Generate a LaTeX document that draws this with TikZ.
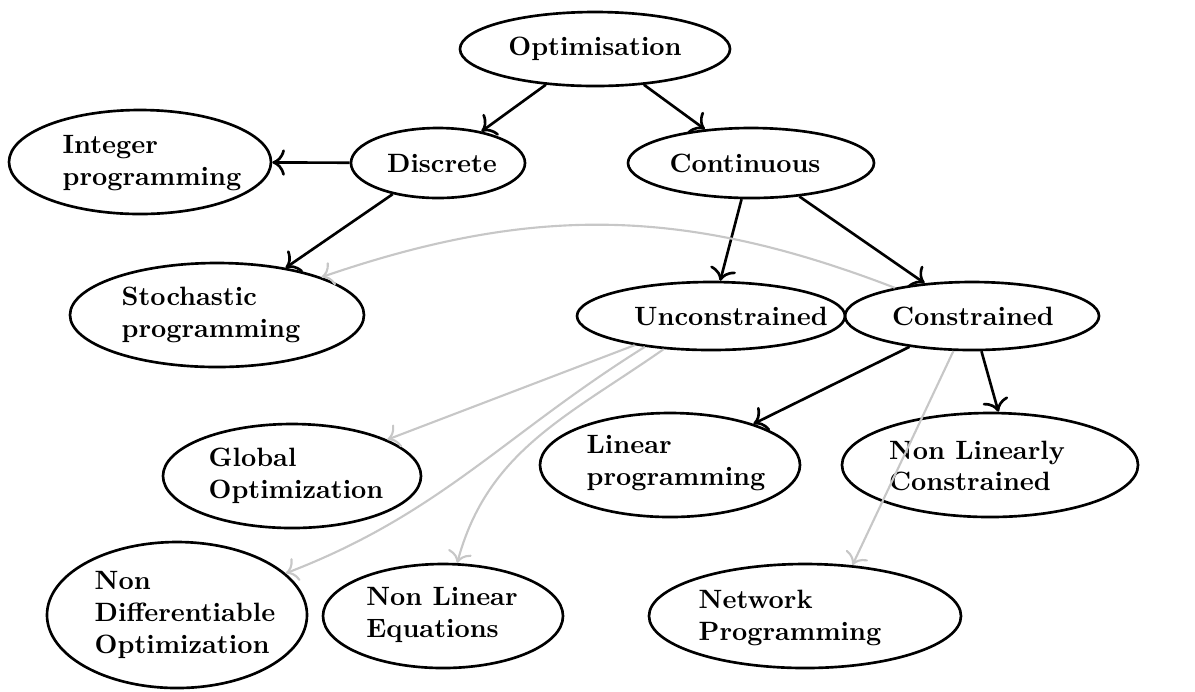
\documentclass[tikz,border=0pt]{standalone}
\usetikzlibrary{shapes.geometric,arrows.meta}
\begin{document}
\begin{tikzpicture}[x=0.3774pt,y=-0.3774pt,
  ell/.style={ellipse,draw,line width=1pt,inner sep=0pt},
  sz/.style 2 args={minimum width=#1*0.7548pt,minimum height=#2*0.7548pt},
  lbl/.style={font=\bfseries,align=left,inner sep=0pt},
  blk/.style={-{To[scale=1.25]},line width=1pt},
  gry/.style={-{To[scale=1.3]},line width=0.8pt,draw=black!22}]
\useasboundingbox (0,0) rectangle (1195,691);
% ellipses
\node[ell,sz={135}{37}] (opt) at (595,49) {};
\node[ell,sz={87}{35}] (disc) at (438,163) {};
\node[ell,sz={131}{52}] (intp) at (140,162) {};
\node[ell,sz={123}{35}] (cont) at (751,163) {};
\node[ell,sz={147}{52}] (stoch) at (217,315) {};
\node[ell,sz={134}{34}] (uncon) at (711,316) {};
\node[ell,sz={127}{34}] (con) at (972,316) {};
\node[ell,sz={129}{52}] (glob) at (292,476) {};
\node[ell,sz={130}{52}] (lin) at (670,465) {};
\node[ell,sz={148}{52}] (nlc) at (990,465) {};
\node[ell,sz={130}{73}] (nondiff) at (177,615) {};
\node[ell,sz={120}{52}] (nle) at (443,616) {};
\node[ell,sz={156}{52}] (net) at (805,616) {};
% texts
\node[lbl] (optT) at (595,49) {Optimisation};
\node[lbl] (discT) at (442,163) {Discrete};
\node[lbl] (intpT) at (152,163) {Integer\\programming};
\node[lbl] (contT) at (745,163) {Continuous};
\node[lbl] (stochT) at (211,315) {Stochastic\\programming};
\node[lbl] (unconT) at (731,316) {Unconstrained};
\node[lbl] (conT) at (973,316) {Constrained};
\node[lbl] (globT) at (296,476) {Global\\Optimization};
\node[lbl] (linT) at (676,463) {Linear\\programming};
\node[lbl] (nlcT) at (977,466) {Non Linearly\\Constrained};
\node[lbl] (nondiffT) at (185,615) {Non\\Differentiable\\Optimization};
\node[lbl] (nleT) at (442,615) {Non Linear\\Equations};
\node[lbl] (netT) at (790,618) {Network\\Programming};
% black connectors
\draw[blk] (opt) -- (disc);
\draw[blk] (opt) -- (cont);
\draw[blk] (disc) -- (intp);
\draw[blk] (disc) -- (stoch);
\draw[blk] (cont) -- (uncon);
\draw[blk] (cont) -- (con);
\draw[blk] (con) -- (lin);
\draw[blk] (con.-75) -- (nlc.81);
% gray connectors
\draw[gry] (con) to[bend right=20] (stoch);
\draw[gry] (uncon) -- (glob);
\draw[gry] (uncon.205) to[out=212,in=21] (nondiff.21);
\draw[gry] (uncon) to[out=215,in=75] (nle);
\draw[gry] (con.242) -- (net.47);
\end{tikzpicture}
\end{document}
